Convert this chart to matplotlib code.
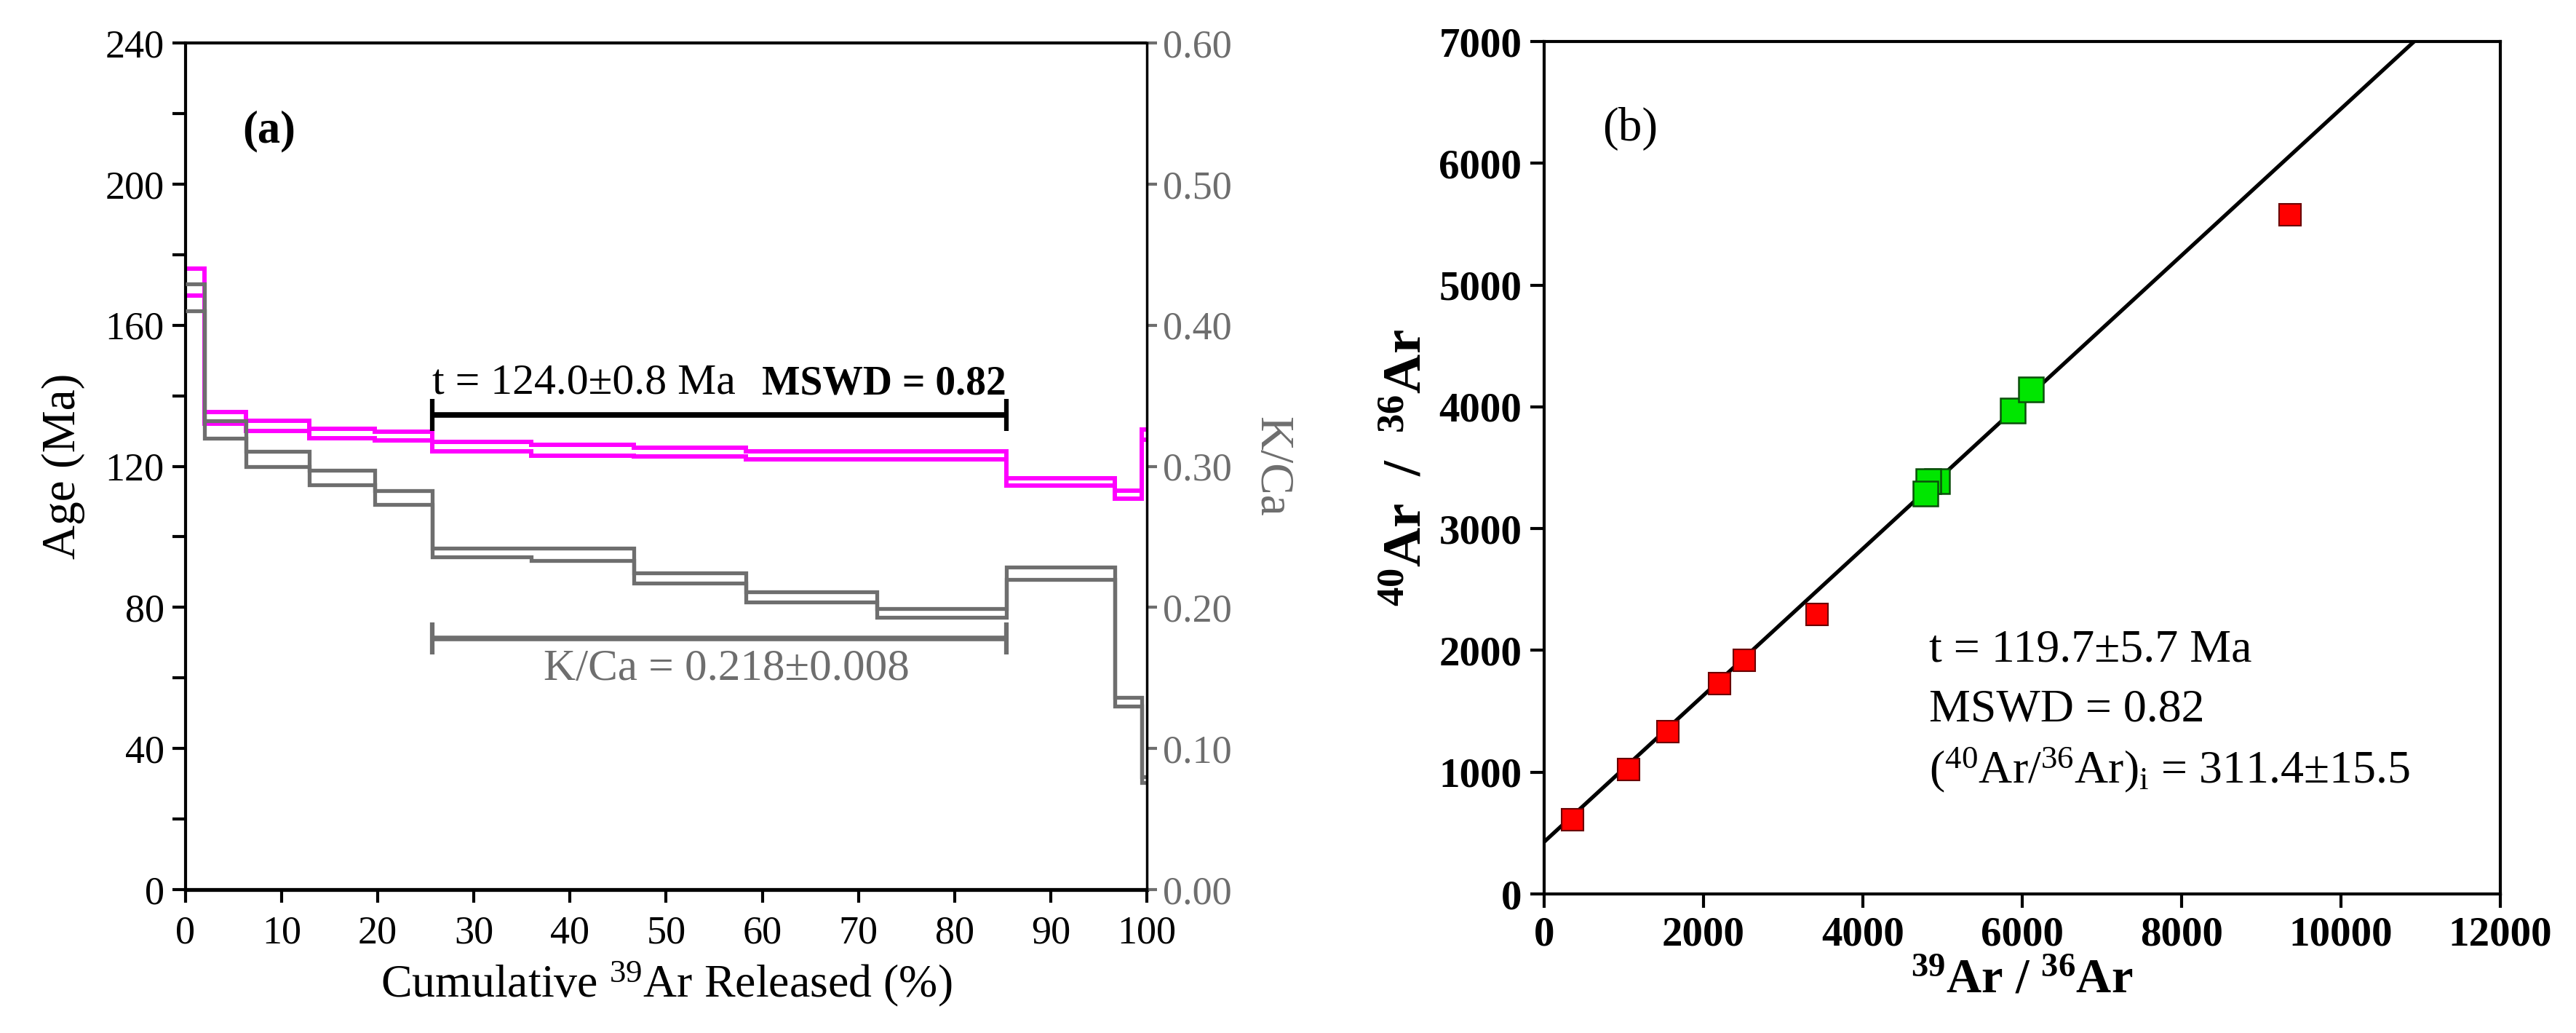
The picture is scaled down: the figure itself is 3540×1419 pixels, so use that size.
import numpy as np
import matplotlib
matplotlib.use("Agg")
import matplotlib.pyplot as plt
from matplotlib.ticker import MultipleLocator, FormatStrFormatter

plt.rcParams['font.family'] = ['Liberation Serif', 'DejaVu Serif']
plt.rcParams['mathtext.fontset'] = 'custom'
plt.rcParams['mathtext.rm'] = 'Liberation Serif'
plt.rcParams['mathtext.bf'] = 'Liberation Serif:bold'
plt.rcParams['mathtext.default'] = 'regular'

# --- panel (a): step-heating spectrum ---
step_edges = [0, 1.94, 6.28, 12.9, 19.7, 25.7, 36.0, 46.6, 58.3, 71.9, 85.4, 96.7, 99.5, 100]
age_hi = [176.0, 135.3, 132.9, 130.6, 129.8, 126.9, 126.1, 125.3, 124.2, 124.2, 116.7, 113.1, 130.4]
age_lo = [168.5, 132.1, 130.0, 127.9, 127.4, 124.2, 122.9, 122.8, 122.0, 122.0, 114.6, 110.8, 127.5]
kca_hi = [0.429, 0.3325, 0.3105, 0.297, 0.2825, 0.242, 0.242, 0.2245, 0.211, 0.199, 0.2285, 0.136, 0.080]
kca_lo = [0.410, 0.320, 0.300, 0.287, 0.273, 0.236, 0.233, 0.217, 0.204, 0.193, 0.220, 0.130, 0.076]

plateau_start, plateau_end = 25.7, 85.4
plateau_bar_age = 134.5
kca_bar = 0.178

# --- panel (b): inverse isochron ---
red_x = [360, 1060, 1555, 2205, 2510, 3425, 9360]
red_y = [610, 1020, 1335, 1730, 1920, 2295, 5580]
green_x = [4930, 4820, 4790, 5880, 6110]
green_y = [3390, 3390, 3290, 3970, 4140]
iso_intercept = 427
iso_slope = 0.602

GRAY = '#6e6e6e'
MAGENTA = '#ff00ff'

fig = plt.figure(figsize=(35.4, 14.19), dpi=100)

# ---------------- panel (a) ----------------
ax = fig.add_axes([0.072, 0.1388, 0.3732, 0.8196])
ax.stairs(age_hi, step_edges, baseline=None, color=MAGENTA, linewidth=4.3)
ax.stairs(age_lo, step_edges, baseline=None, color=MAGENTA, linewidth=4.3)
ax.errorbar([(plateau_start + plateau_end) / 2], [plateau_bar_age],
            xerr=[(plateau_end - plateau_start) / 2], fmt='none', ecolor='black',
            elinewidth=5.5, capsize=16, capthick=4.5)
ax.set_xlim(0, 100)
ax.set_ylim(0, 240)
ax.xaxis.set_major_locator(MultipleLocator(10))
ax.yaxis.set_major_locator(MultipleLocator(40))
ax.yaxis.set_minor_locator(MultipleLocator(20))
ax.tick_params(axis='both', which='both', direction='out', length=13, width=3,
               labelsize=39, pad=8)
ax.tick_params(axis='x', pad=12)
for s in ['left', 'top']:
    ax.spines[s].set_linewidth(3)
ax.spines['bottom'].set_linewidth(3.8)
ax.spines['right'].set_visible(False)
ax.set_ylabel('Age (Ma)', fontsize=47, labelpad=20)
ax.set_xlabel('Cumulative $^{39}$Ar Released (%)', fontsize=46, labelpad=8)
ax.text(8.7, 215, '(a)', fontsize=45, fontweight='bold', ha='center', va='center')
ax.text(plateau_start, 138, 't = 124.0\u00b10.8 Ma', fontsize=43, ha='left', va='bottom')
ax.text(plateau_end, 138, 'MSWD = 0.82', fontsize=40, fontweight='bold',
        ha='right', va='bottom')

ax2 = ax.twinx()
ax2.stairs(kca_hi, step_edges, baseline=None, color=GRAY, linewidth=3.8)
ax2.stairs(kca_lo, step_edges, baseline=None, color=GRAY, linewidth=3.8)
ax2.errorbar([(plateau_start + plateau_end) / 2], [kca_bar],
             xerr=[(plateau_end - plateau_start) / 2], fmt='none', ecolor=GRAY,
             elinewidth=5.5, capsize=16, capthick=4.5)
ax2.set_ylim(0, 0.6)
ax2.yaxis.set_major_locator(MultipleLocator(0.1))
ax2.yaxis.set_major_formatter(FormatStrFormatter('%.2f'))
ax2.tick_params(axis='y', direction='out', length=10, width=3, colors=GRAY,
                labelsize=39, pad=6)
ax2.spines['right'].set_linewidth(2.5)
ax2.spines['right'].set_color('black')
for s in ['left', 'top', 'bottom']:
    ax2.spines[s].set_visible(False)
ax2.set_ylabel('K/Ca', fontsize=47, color=GRAY, rotation=270, labelpad=60)
ax2.text(56.3, 0.156, 'K/Ca = 0.218\u00b10.008', fontsize=44, color=GRAY,
         ha='center', va='center')

# ---------------- panel (b) ----------------
bx = fig.add_axes([0.5994, 0.1346, 0.3712, 0.8252])
xs = np.array([0, 12000])
bx.plot(xs, iso_intercept + iso_slope * xs, color='black', linewidth=3.8, zorder=2)
bx.plot(red_x, red_y, 's', markersize=21, markerfacecolor='#ff0000',
        markeredgecolor='#6a0000', markeredgewidth=1.5, linestyle='none', zorder=3)
bx.plot(green_x, green_y, 's', markersize=24.5, markerfacecolor='#00e600',
        markeredgecolor='#0b4f0b', markeredgewidth=1.8, linestyle='none', zorder=3)
bx.set_xlim(0, 12000)
bx.set_ylim(0, 7000)
bx.xaxis.set_major_locator(MultipleLocator(2000))
bx.yaxis.set_major_locator(MultipleLocator(1000))
bx.tick_params(axis='both', direction='out', length=14, width=3, labelsize=41, pad=8)
for lab in bx.get_xticklabels() + bx.get_yticklabels():
    lab.set_fontweight('bold')
for s in bx.spines.values():
    s.set_linewidth(3)
bx.set_xlabel('$^{39}$Ar / $^{36}$Ar', fontsize=48, fontweight='bold', labelpad=4)
bx.set_ylabel('$^{40}$Ar  /  $^{36}$Ar', fontsize=54, fontweight='bold', labelpad=6)
bx.text(1077, 6285, '(b)', fontsize=47, ha='center', va='center')
bx.text(4830, 2000, 't = 119.7\u00b15.7 Ma', fontsize=46, ha='left', va='center')
bx.text(4830, 1510, 'MSWD = 0.82', fontsize=46, ha='left', va='center')
bx.text(4830, 1020, '($^{40}$Ar/$^{36}$Ar)$_{i}$ = 311.4\u00b115.5', fontsize=46,
        ha='left', va='center')

fig.savefig('out.png', dpi=100)
